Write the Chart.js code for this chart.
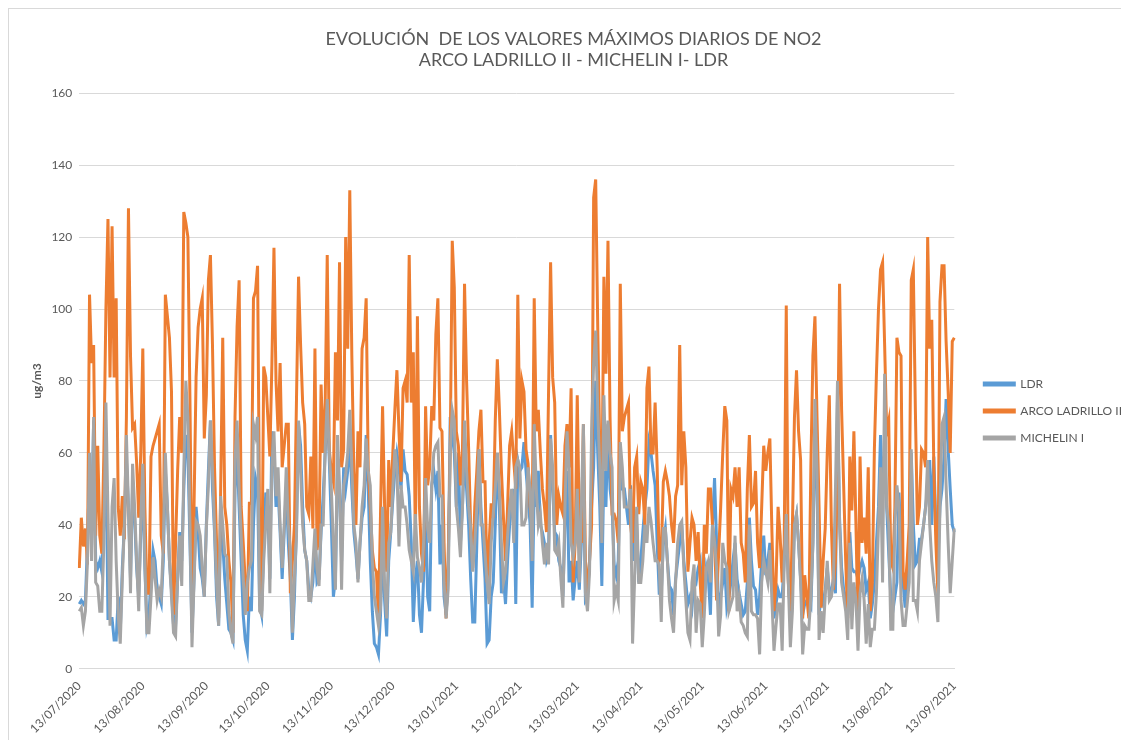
<!DOCTYPE html>
<html>
<head>
<meta charset="utf-8">
<title>Evolución NO2</title>
<script src="https://cdn.jsdelivr.net/npm/chart.js@4/dist/chart.umd.min.js"></script>
<style>
  body { margin: 0; background: #fff; }
  #wrap { width: 1121px; height: 740px; }
</style>
</head>
<body>
<div id="wrap"><canvas id="no2Chart" width="1121" height="740"></canvas></div>
<script>
// Daily maximum NO2 (ug/m3), one value per day starting 13/07/2020
const startDate = [2020, 6, 13]; // year, month (0-based), day

const arcoLadrillo = [
    28, 42, 34, 39, 29, 104, 85, 90, 37, 62,
    37, 32, 60, 100, 125, 81, 123, 81, 103, 45,
    37, 48, 36, 70, 128, 87, 67, 68, 57, 42,
    60, 89, 45, 21, 21, 59, 62, 64, 66, 68,
    37, 32, 104, 98, 92, 77, 15, 35, 55, 70,
    60, 127, 124, 120, 75, 20, 45, 81, 95, 100,
    103, 64, 76, 108, 115, 90, 56, 35, 14, 50,
    92, 45, 40, 30, 24, 10, 70, 95, 108, 45,
    35, 24, 16, 46, 46, 103, 105, 112, 40, 16,
    84, 81, 70, 59, 85, 117, 80, 66, 85, 56,
    62, 68, 68, 21, 30, 40, 75, 109, 90, 74,
    68, 45, 43, 59, 39, 89, 33, 37, 79, 60,
    74, 115, 61, 55, 52, 88, 69, 113, 56, 61,
    120, 89, 133, 87, 55, 40, 66, 56, 89, 92,
    103, 56, 45, 33, 28, 27, 14, 43, 73, 45,
    27, 58, 45, 60, 72, 83, 66, 52, 78, 80,
    74, 115, 74, 88, 35, 98, 45, 32, 27, 73,
    51, 56, 73, 69, 93, 103, 67, 66, 35, 14,
    30, 60, 119, 106, 66, 62, 51, 61, 107, 80,
    61, 39, 28, 45, 55, 66, 72, 52, 52, 24,
    35, 46, 42, 69, 86, 72, 55, 42, 30, 45,
    62, 66, 58, 50, 104, 64, 80, 77, 61, 57,
    45, 40, 103, 66, 72, 60, 50, 45, 38, 77,
    113, 81, 74, 40, 48, 45, 43, 62, 68, 56,
    78, 24, 35, 76, 40, 35, 68, 30, 21, 30,
    40, 131, 136, 95, 61, 45, 109, 82, 119, 70,
    43, 43, 41, 35, 107, 66, 70, 72, 74, 40,
    35, 56, 59, 43, 52, 50, 40, 78, 84, 60,
    60, 74, 56, 30, 32, 52, 55, 52, 48, 40,
    35, 48, 51, 90, 51, 66, 56, 27, 35, 42,
    40, 30, 38, 24, 14, 40, 32, 50, 50, 40,
    35, 19, 32, 45, 60, 73, 69, 16, 50, 48,
    56, 45, 56, 35, 32, 24, 50, 65, 45, 46,
    55, 35, 28, 45, 62, 55, 60, 64, 38, 16,
    24, 45, 37, 24, 35, 101, 24, 16, 40, 70,
    83, 66, 58, 14, 26, 20, 14, 56, 87, 98,
    70, 45, 17, 30, 39, 60, 76, 40, 22, 30,
    56, 107, 72, 51, 30, 14, 59, 44, 66, 40,
    12, 59, 35, 42, 32, 56, 16, 24, 61, 82,
    100, 111, 113, 90, 66, 69, 30, 28, 45, 92,
    88, 87, 27, 22, 30, 40, 108, 111, 72, 40,
    45, 61, 60, 56, 120, 89, 97, 56, 35, 21,
    102, 112, 112, 91, 77, 60, 91, 92
];

const michelin = [
    16, 17, 12, 16, 30, 60, 30, 70, 24, 23,
    16, 16, 35, 74, 43, 12, 45, 53, 30, 15,
    7, 25, 40, 65, 45, 21, 57, 45, 30, 16,
    41, 57, 30, 10, 10, 20, 31, 25, 19, 22,
    20, 35, 60, 45, 30, 20, 10, 9, 25, 37,
    23, 55, 80, 70, 40, 6, 24, 41, 40, 37,
    28, 20, 39, 51, 69, 55, 40, 24, 12, 48,
    40, 32, 31, 16, 10, 7, 58, 69, 50, 37,
    25, 15, 24, 28, 30, 68, 65, 70, 16, 15,
    30, 40, 50, 21, 56, 66, 48, 56, 40, 28,
    40, 56, 40, 33, 10, 25, 37, 69, 55, 40,
    33, 30, 19, 19, 29, 39, 28, 23, 40, 40,
    61, 75, 60, 50, 35, 22, 65, 51, 22, 51,
    54, 60, 72, 56, 40, 35, 24, 35, 45, 51,
    64, 55, 51, 30, 20, 16, 12, 17, 45, 23,
    14, 35, 38, 50, 61, 56, 34, 51, 45, 45,
    40, 33, 30, 27, 43, 31, 28, 24, 35, 53,
    39, 35, 51, 60, 62, 63, 48, 48, 24, 14,
    22, 60, 72, 69, 45, 39, 31, 45, 69, 55,
    45, 39, 27, 35, 45, 61, 40, 40, 32, 24,
    18, 35, 43, 50, 60, 50, 35, 24, 27, 37,
    45, 50, 35, 56, 58, 56, 40, 40, 42, 56,
    50, 30, 68, 50, 40, 43, 35, 29, 35, 29,
    64, 56, 33, 32, 35, 25, 17, 45, 66, 56,
    35, 31, 35, 50, 24, 45, 68, 21, 16, 27,
    66, 85, 94, 72, 56, 35, 76, 55, 69, 60,
    56, 19, 22, 19, 63, 56, 45, 45, 45, 50,
    7, 25, 45, 24, 24, 30, 40, 35, 45, 41,
    35, 30, 30, 29, 13, 39, 39, 30, 19, 14,
    10, 24, 35, 40, 41, 28, 19, 10, 8, 24,
    29, 10, 19, 18, 6, 15, 28, 30, 24, 40,
    35, 28, 9, 15, 35, 30, 28, 16, 18, 20,
    37, 16, 20, 13, 12, 10, 9, 40, 16, 15,
    15, 14, 4, 24, 30, 27, 24, 33, 19, 5,
    12, 18, 18, 5, 30, 43, 24, 6, 16, 40,
    43, 35, 24, 4, 12, 11, 11, 20, 35, 75,
    56, 8, 16, 10, 20, 30, 19, 20, 24, 50,
    80, 40, 24, 20, 16, 8, 35, 11, 24, 19,
    5, 21, 25, 19, 7, 18, 6, 11, 11, 21,
    40, 56, 24, 82, 45, 40, 11, 11, 40, 51,
    45, 19, 12, 12, 18, 24, 61, 19, 19, 16,
    30, 35, 40, 45, 58, 40, 30, 24, 20, 13,
    45, 68, 70, 51, 35, 21, 30, 39
];

const ldr = [
    18, 19, 18, 19, 35, 55, 40, 69, 30, 28,
    30, 27, 40, 62, 14, 14, 14, 8, 8, 20,
    10, 28, 40, 58, 45, 25, 50, 42, 28, 20,
    38, 50, 28, 12, 15, 25, 33, 30, 22, 20,
    18, 30, 55, 45, 30, 22, 12, 12, 25, 38,
    30, 50, 65, 60, 35, 10, 25, 45, 38, 28,
    25, 20, 40, 55, 69, 50, 38, 20, 12, 40,
    35, 25, 18, 11, 10, 8, 50, 60, 45, 30,
    15, 8, 5, 20, 16, 40, 53, 50, 18, 15,
    35, 49, 45, 25, 66, 60, 45, 50, 38, 25,
    38, 50, 35, 25, 8, 20, 40, 68, 62, 45,
    33, 30, 22, 20, 24, 35, 24, 25, 38, 48,
    60, 74, 58, 40, 20, 25, 55, 50, 30, 56,
    50, 55, 65, 50, 38, 32, 25, 35, 42, 45,
    65, 50, 30, 16, 7, 6, 4, 15, 35, 19,
    9, 30, 38, 47, 55, 60, 56, 50, 61, 55,
    54, 48, 35, 13, 25, 30, 15, 10, 25, 45,
    20, 16, 51, 55, 50, 55, 29, 40, 20, 15,
    25, 70, 65, 60, 45, 60, 35, 45, 60, 50,
    40, 25, 13, 13, 35, 61, 45, 35, 25, 7,
    8, 20, 24, 40, 60, 45, 21, 25, 18, 30,
    40, 45, 50, 18, 58, 55, 56, 63, 55, 48,
    40, 17, 50, 45, 55, 40, 38, 35, 30, 32,
    65, 50, 38, 37, 30, 28, 20, 40, 55, 24,
    30, 19, 25, 30, 22, 35, 55, 19, 20, 30,
    45, 56, 80, 60, 45, 23, 55, 45, 68, 50,
    45, 29, 26, 30, 56, 50, 50, 45, 40, 51,
    30, 43, 40, 24, 30, 38, 45, 50, 63, 60,
    55, 51, 35, 21, 21, 35, 39, 30, 23, 22,
    15, 25, 30, 35, 40, 30, 24, 18, 20, 17,
    25, 24, 28, 30, 18, 20, 28, 25, 15, 40,
    53, 35, 16, 20, 24, 28, 17, 20, 24, 30,
    35, 25, 21, 18, 15, 16, 24, 42, 30, 23,
    22, 15, 20, 30, 37, 26, 30, 35, 25, 14,
    18, 22, 20, 20, 30, 40, 25, 15, 22, 40,
    43, 35, 25, 15, 18, 19, 18, 17, 35, 65,
    50, 15, 20, 18, 22, 28, 22, 21, 25, 21,
    75, 42, 28, 22, 20, 15, 38, 28, 27, 27,
    25, 28, 30, 28, 22, 24, 14, 18, 24, 35,
    45, 65, 50, 60, 45, 32, 20, 16, 20, 24,
    49, 35, 24, 17, 25, 35, 60, 40, 29, 30,
    36, 36, 40, 45, 50, 58, 40, 59, 40, 30,
    45, 50, 59, 75, 61, 50, 40, 38
];

const seriesNames = ['LDR', 'ARCO LADRILLO II', 'MICHELIN I'];
const seriesColors = ['#5b9bd5', '#ed7d31', '#a5a5a5'];
const yTicks = [0, 20, 40, 60, 80, 100, 120, 140, 160];
const titleLines = ['EVOLUCIÓN  DE LOS VALORES MÁXIMOS DIARIOS DE NO2', 'ARCO LADRILLO II - MICHELIN I- LDR'];

// one label per day, dd/mm/yyyy
const pad = (n) => String(n).padStart(2, '0');
const dayLabels = arcoLadrillo.map((_, i) => {
    const d = new Date(startDate[0], startDate[1], startDate[2] + i);
    return `${pad(d.getDate())}/${pad(d.getMonth() + 1)}/${d.getFullYear()}`;
});

const textColor = '#595959';
const gridColor = '#d9d9d9';
const font = 'Lato, "Open Sans", sans-serif';

// light frame around the chart area, like the spreadsheet chart
const framePlugin = {
    id: 'frame',
    beforeDraw(chart) {
        const ctx = chart.ctx;
        ctx.save();
        ctx.fillStyle = '#fff';
        ctx.fillRect(0, 0, chart.width, chart.height);
        ctx.strokeStyle = gridColor;
        ctx.lineWidth = 1;
        ctx.strokeRect(8.5, 8.5, chart.width + 10, chart.height + 10);
        ctx.restore();
    }
};

// push the legend a bit right and down, where the spreadsheet puts it
const legendShift = {
    id: 'legendShift',
    afterLayout(chart) {
        const lg = chart.legend;
        lg.left += 15; lg.right += 15;
        lg.top += 30; lg.bottom += 30;
    }
};

const datasets = [ldr, arcoLadrillo, michelin].map((values, i) => ({
    label: seriesNames[i],
    data: values,
    borderColor: seriesColors[i],
    backgroundColor: seriesColors[i],
    borderWidth: 3,
    pointRadius: 0,
    tension: 0,
    order: 3 - i // later series drawn on top
}));

new Chart(document.getElementById('no2Chart').getContext('2d'), {
    type: 'line',
    data: { labels: dayLabels, datasets: datasets },
    options: {
        responsive: false,
        animation: false,
        layout: { padding: { left: 30, right: 4, top: 24, bottom: 2 } },
        plugins: {
            tooltip: { enabled: false },
            title: {
                display: true,
                text: titleLines,
                color: textColor,
                font: { family: font, size: 18, weight: 'normal' },
                lineHeight: 1.55,
                padding: { top: 4, bottom: 22 }
            },
            legend: {
                position: 'right',
                labels: {
                    color: textColor,
                    font: { family: font, size: 12 },
                    boxWidth: 30,
                    boxHeight: 2,
                    padding: 15,
                    sort: (a, b) => a.datasetIndex - b.datasetIndex
                }
            }
        },
        scales: {
            x: {
                grid: { display: false },
                border: { display: true, color: gridColor },
                ticks: {
                    autoSkip: false,
                    maxRotation: 45,
                    minRotation: 45,
                    color: textColor,
                    font: { family: font, size: 12 },
                    padding: 2,
                    callback: function (value) {
                        const lbl = this.getLabelForValue(value);
                        return lbl.startsWith('13/') ? lbl : null;
                    }
                }
            },
            y: {
                min: 0,
                max: 160,
                afterBuildTicks: (axis) => { axis.ticks = yTicks.map(v => ({ value: v })); },
                grid: { color: gridColor, drawTicks: false },
                border: { display: false },
                ticks: { color: textColor, font: { family: font, size: 12 }, padding: 7 },
                title: {
                    display: true,
                    text: 'ug/m3',
                    color: textColor,
                    font: { family: font, size: 12, weight: 'bold' },
                    padding: { top: 0, bottom: 0 }
                }
            }
        }
    },
    plugins: [framePlugin, legendShift]
});
</script>
</body>
</html>
